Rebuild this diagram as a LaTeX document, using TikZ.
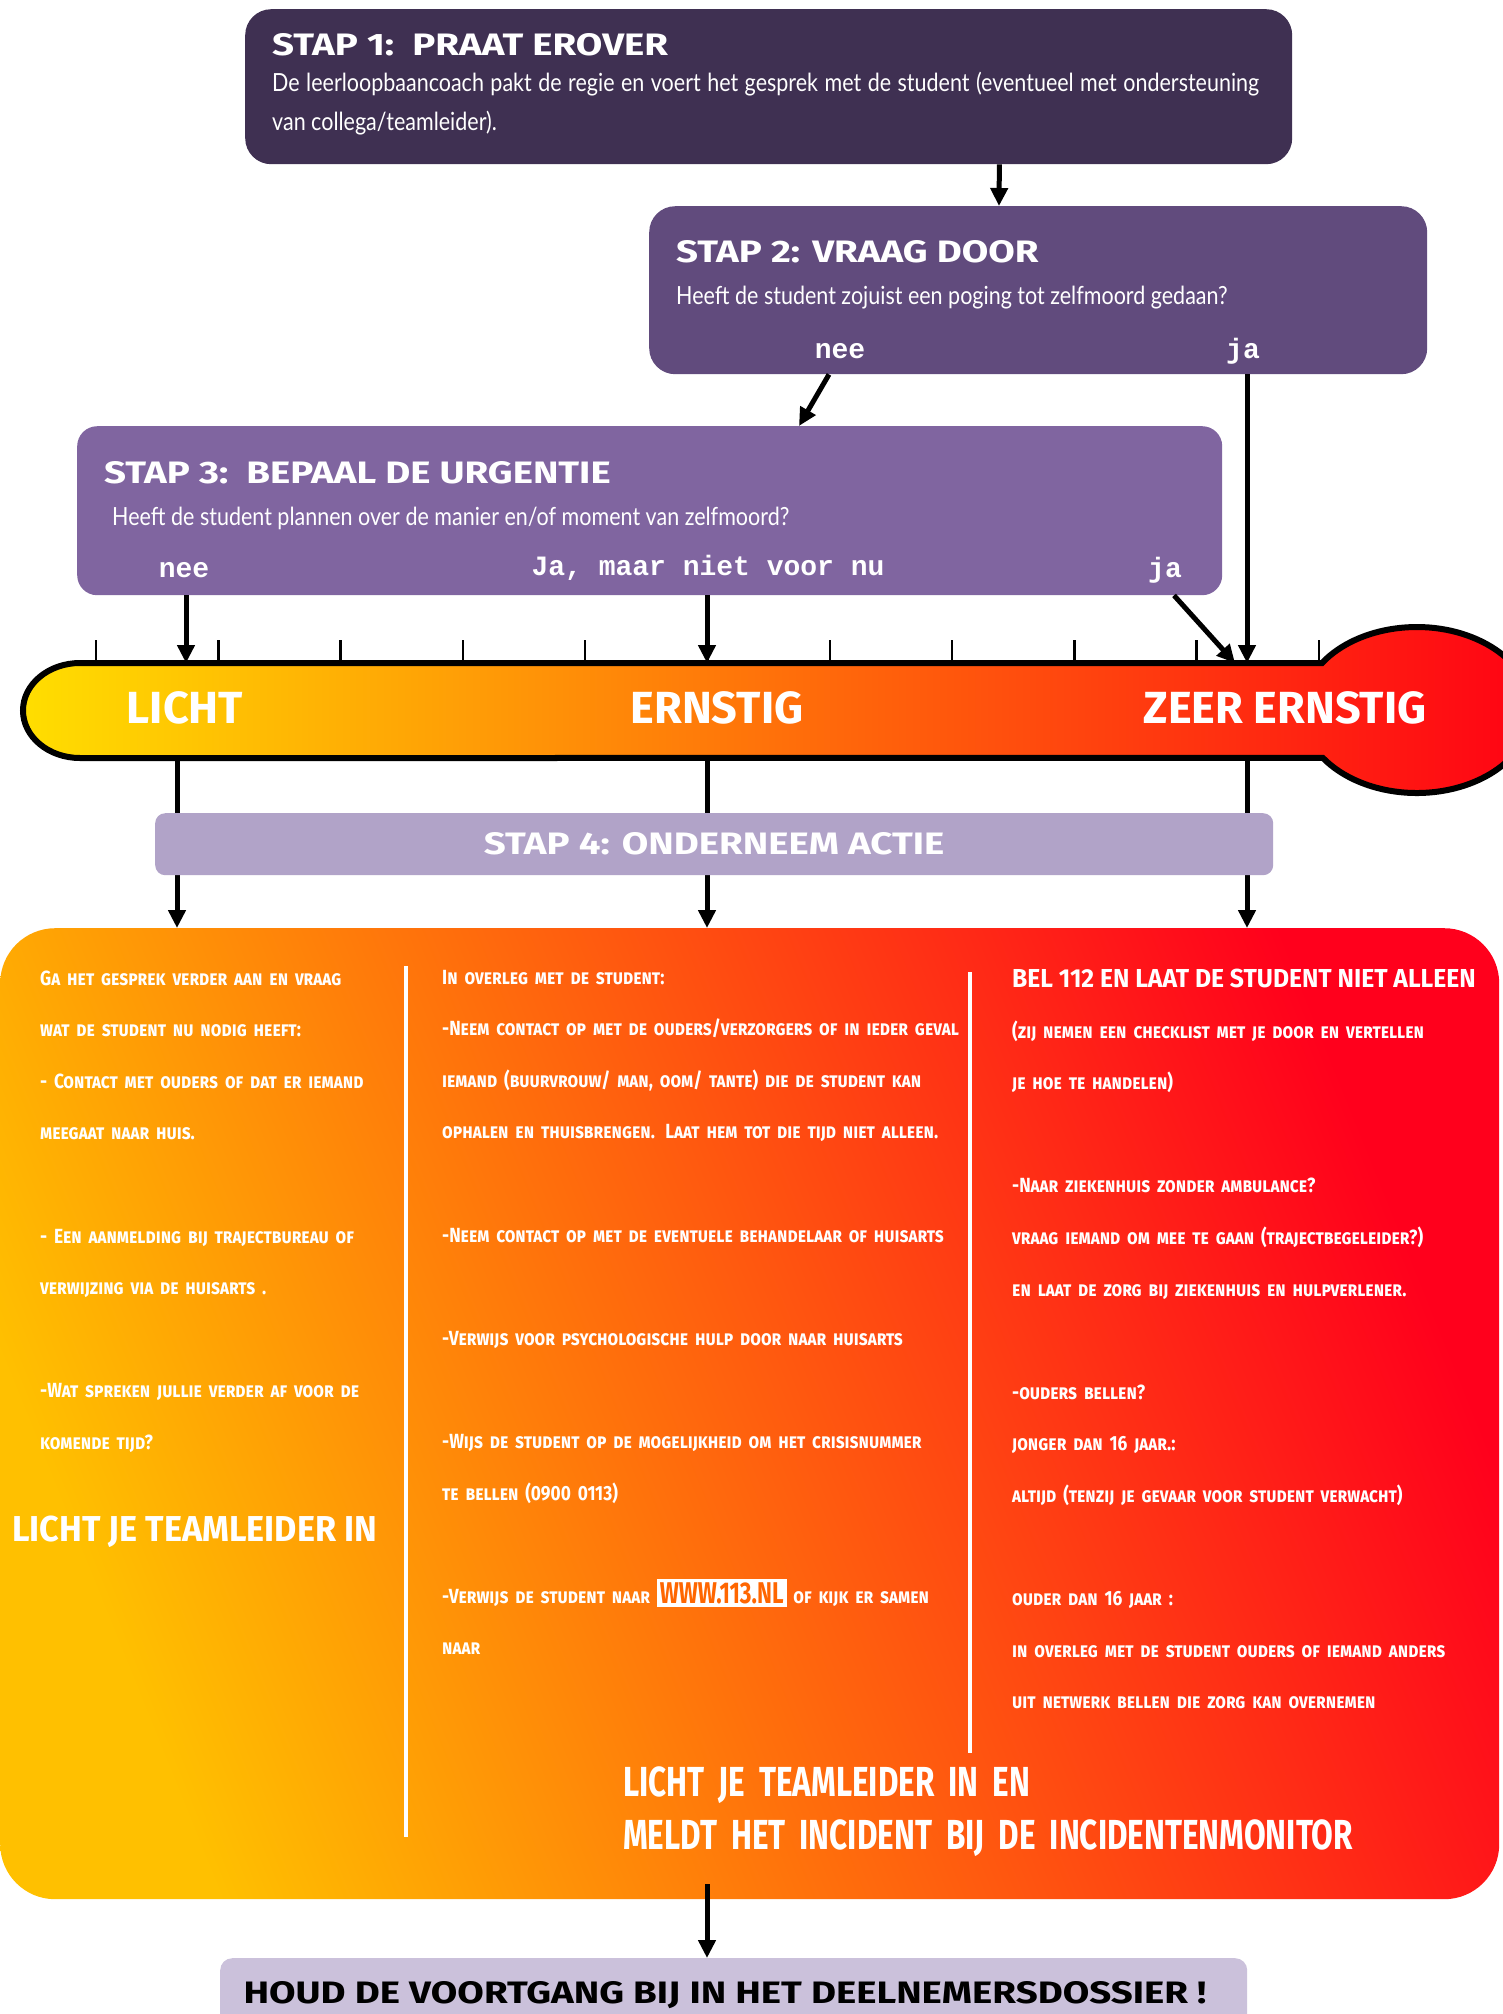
\documentclass[tikz,border=0pt]{standalone}
\usepackage{fontspec}
\setmainfont{Lato}
\newfontfamily\titlefont[FakeStretch=1.24]{Fira Sans}
\newfontfamily\bodyfont[FakeStretch=0.86]{Lato}
\newfontfamily\answerfont{Liberation Mono}
\newfontfamily\levelfont{Fira Sans}
\newfontfamily\actionfont[FakeStretch=0.845]{Fira Sans}
\newfontfamily\blockfont[FakeStretch=0.95]{Fira Sans}
\newfontfamily\condfont[FakeStretch=0.75]{Fira Sans}
\usetikzlibrary{arrows.meta,positioning}

\definecolor{stapone}{RGB}{63,48,82}
\definecolor{staptwo}{RGB}{97,75,125}
\definecolor{stapthree}{RGB}{128,101,160}
\definecolor{stapfour}{RGB}{177,163,200}
\definecolor{dossier}{RGB}{203,193,219}
\definecolor{tempyellow}{RGB}{255,222,0}
\definecolor{temporange}{RGB}{255,150,0}
\definecolor{tempred}{RGB}{255,0,20}
\definecolor{panelyellow}{RGB}{255,192,0}
\definecolor{panelorange}{RGB}{255,105,0}
\definecolor{panelred}{RGB}{255,0,28}
\definecolor{linkorange}{RGB}{255,102,0}

\setlength{\fboxsep}{3pt}
\newcommand{\siteurl}{\colorbox{white}{\textcolor{linkorange}{\condfont\bfseries\upshape\fontsize{30}{30}\selectfont WWW.113.NL}}}

\tikzset{
  stapbox/.style={anchor=north west, inner sep=0pt, rounded corners=26pt},
  staptitle/.style={anchor=base west, text=white, inner sep=0pt, font=\titlefont\bfseries\fontsize{31}{34}\selectfont},
  stapvraag/.style={anchor=base west, text=white, inner sep=0pt, font=\bodyfont\fontsize{25}{39}\selectfont},
  antwoord/.style={anchor=base, text=white, inner sep=0pt, font=\answerfont\bfseries\fontsize{28}{30}\selectfont},
  niveau/.style={text=white, inner sep=0pt, font=\levelfont\bfseries\fontsize{45}{48}\selectfont},
  kolom/.style={anchor=base west, text=white, inner sep=0pt, text width=540pt, align=left, font=\actionfont\bfseries\scshape\fontsize{20.5}{51.6}\selectfont},
  pijl/.style={line width=5pt, -{Triangle[length=18pt,width=17pt]}},
  streep/.style={white, line width=4pt},
}

\begin{document}
\begin{tikzpicture}[x=1pt,y=-1pt]
\useasboundingbox (0,0) rectangle (1503,2014);

% stap 1
\node[stapbox, fill=stapone, minimum width=1047pt, minimum height=155pt] (stap1) at (245,9) {};
\node[staptitle] (titel1) at ([shift={(27,46)}]stap1.north west) {STAP 1:\ \ PRAAT EROVER};
\node[stapvraag, text width=987pt, align=justify] (tekst1) at ([shift={(27,82)}]stap1.north west)
  {De leerloopbaancoach pakt de regie en voert het gesprek met de student (eventueel met ondersteuning\linebreak van collega/teamleider).};

% stap 2
\node[stapbox, fill=staptwo, minimum width=778pt, minimum height=168pt] (stap2) at (649,206) {};
\node[staptitle] (titel2) at ([shift={(27,56)}]stap2.north west) {STAP 2: VRAAG DOOR};
\node[stapvraag] (tekst2) at ([shift={(27,98)}]stap2.north west) {Heeft de student zojuist een poging tot zelfmoord gedaan?};
\node[antwoord] (nee2) at ([shift={(191,152)}]stap2.north west) {nee};
\node[antwoord] (ja2) at ([shift={(594,152)}]stap2.north west) {ja};

% stap 3
\node[stapbox, rounded corners=20pt, fill=stapthree, minimum width=1145pt, minimum height=169pt] (stap3) at (77,426) {};
\node[staptitle] (titel3) at ([shift={(27,57)}]stap3.north west) {STAP 3:\ \ BEPAAL DE URGENTIE};
\node[stapvraag] (tekst3) at ([shift={(35,99)}]stap3.north west) {Heeft de student plannen over de manier en/of moment van zelfmoord?};
\node[antwoord] (nee3) at ([shift={(107,151)}]stap3.north west) {nee};
\node[antwoord] (jamaar3) at ([shift={(631,149)}]stap3.north west) {Ja, maar niet voor nu};
\node[antwoord] (ja3) at ([shift={(1088,151)}]stap3.north west) {ja};

% thermometer
\coordinate (bartop) at (0,663);
\coordinate (barbot) at (0,758);
\foreach \i in {0,...,10}
  \draw[line width=2.5pt] ({96+122.3*\i},640) -- ({96+122.3*\i},663);
\shadedraw[line width=6pt, left color=tempyellow, middle color=temporange, right color=tempred]
  (80,663) -- (1322,663) arc[start angle=214.5, end angle=504.7, x radius=115, y radius=83]
  -- (80,758) arc[start angle=90, end angle=270, x radius=57, y radius=47.5] -- cycle;
\node[niveau] (licht) at (185,708) {LICHT};
\node[niveau] (ernstig) at (717,708) {ERNSTIG};
\node[niveau] (zeer) at (1285,708) {ZEER ERNSTIG};

\draw[pijl] ([xshift=-293pt]stap1.south east) -- ([xshift=350pt]stap2.north west);
\draw[pijl] ([xshift=180pt]stap2.south west) -- ([xshift=722pt]stap3.north west);
\draw[pijl] ([xshift=598pt]stap2.south west) -- ([xshift=1247pt]bartop);
\draw[pijl] ([xshift=109pt]stap3.south west) -- ([xshift=186pt]bartop);
\draw[pijl] ([xshift=630pt]stap3.south west) -- ([xshift=707pt]bartop);
\draw[pijl] ([xshift=1097pt]stap3.south west) -- ([xshift=1235pt]bartop);

% stap 4
\node[anchor=north west, inner sep=0pt, minimum width=1499pt, minimum height=971pt, rounded corners=55pt,
  left color=panelyellow, middle color=panelorange, right color=panelred, shading angle=112] (panel) at (0,928) {};
\draw[pijl] ([xshift=177pt]barbot) -- ([xshift=177pt]panel.north west);
\draw[pijl] ([xshift=707pt]barbot) -- ([xshift=707pt]panel.north west);
\draw[pijl] ([xshift=1247pt]barbot) -- ([xshift=1247pt]panel.north west);
\node[stapbox, rounded corners=10pt, fill=stapfour, minimum width=1118pt, minimum height=62pt] (stap4) at (155,813) {};
\node[staptitle, anchor=center] (titel4) at (stap4.center) {STAP 4: ONDERNEEM ACTIE};

\draw[streep] (406,966) -- (406,1837);
\draw[streep] (970,972) -- (970,1753);

\node[kolom, text width=360pt] (actie1) at (40,985) {Ga het gesprek verder aan en vraag\\ wat de student nu nodig heeft:\\
  - Contact met ouders of dat er iemand\\ meegaat naar huis.\\[51.6pt]
  - Een aanmelding bij trajectbureau of\\ verwijzing via de huisarts .\\[51.6pt]
  -Wat spreken jullie verder af voor de\\ komende tijd?};
\node[anchor=base west, text=white, inner sep=0pt, font=\blockfont\bfseries\fontsize{36}{40}\selectfont] (inlichten) at (12,1541) {LICHT JE TEAMLEIDER IN};

\node[kolom] (actie2) at (442,984) {In overleg met de student:\\
  -Neem contact op met de ouders/verzorgers of in ieder geval\\
  iemand (buurvrouw/ man, oom/ tante) die de student kan\\
  ophalen en thuisbrengen. Laat hem tot die tijd niet alleen.\\[51.6pt]
  -Neem contact op met de eventuele behandelaar of huisarts\\[51.6pt]
  -Verwijs voor psychologische hulp door naar huisarts\\[51.6pt]
  -Wijs de student op de mogelijkheid om het crisisnummer\\ te bellen (0900 0113)\\[51.6pt]
  -Verwijs de student naar \siteurl{} of kijk er samen\\ naar};

\node[anchor=base west, text=white, inner sep=0pt, font=\blockfont\bfseries\fontsize{26}{30}\selectfont] (bel) at (1012,987) {BEL 112 EN LAAT DE STUDENT NIET ALLEEN};
\node[kolom, text width=480pt] (actie3) at (1012,1038) {(zij nemen een checklist met je door en vertellen\\ je hoe te handelen)\\[51.6pt]
  -Naar ziekenhuis zonder ambulance?\\ vraag iemand om mee te gaan (trajectbegeleider?)\\
  en laat de zorg bij ziekenhuis en hulpverlener.\\[51.6pt]
  -ouders bellen?\\ jonger dan 16 jaar.:\\ altijd (tenzij je gevaar voor student verwacht)\\[51.6pt]
  ouder dan 16 jaar :\\ in overleg met de student ouders of iemand anders\\ uit netwerk bellen die zorg kan overnemen};

\node[anchor=base west, text=white, inner sep=0pt, text width=860pt, align=left, font=\condfont\bfseries\fontsize{42}{53}\selectfont] (melden) at (623,1796)
  {LICHT JE TEAMLEIDER IN EN\\ MELDT HET INCIDENT BIJ DE INCIDENTENMONITOR};

% dossier
\node[stapbox, rounded corners=12pt, fill=dossier, minimum width=1027pt, minimum height=90pt] (dossier) at (220,1958) {};
\node[staptitle, anchor=base, text=black] (dossiertekst) at ([shift={(505,45)}]dossier.north west) {HOUD DE VOORTGANG BIJ IN HET DEELNEMERSDOSSIER !};
\draw[pijl] ([shift={(707,-15)}]panel.south west) -- ([xshift=487pt]dossier.north west);

\end{tikzpicture}
\end{document}
